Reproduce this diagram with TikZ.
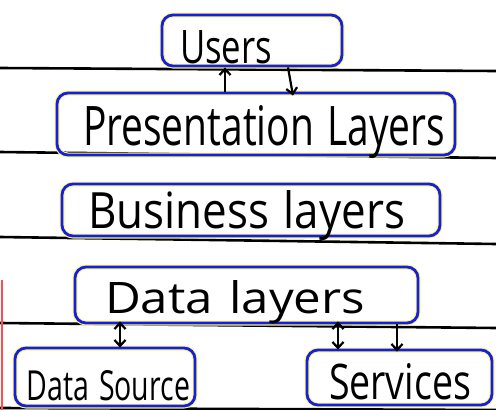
\documentclass[tikz,border=0pt]{standalone}
\usepackage{fontspec}
\setmainfont{Open Sans}
\usetikzlibrary{arrows.meta}
\definecolor{pen}{RGB}{20,30,235}
\newcommand{\hand}[3]{\resizebox{#1pt}{#2pt}{#3}}
\tikzset{
	>={Straight Barb[length=6pt,width=11pt]},
	rule/.style={line width=2.6pt, black},
	layer/.style={draw=pen, line width=2.8pt, rounded corners=11pt,
		preaction={draw=yellow!55, line width=5pt},
		inner sep=0pt, align=left, anchor=base},
	link/.style={line width=2.2pt}
}
\begin{document}
\begin{tikzpicture}[x=1pt,y=-1pt]
		\useasboundingbox (0,0) rectangle (496,410);
		\draw[rule] (0,68) -- (496,71);
		\draw[rule] (0,152) -- (496,158);
		\draw[rule] (0,237) -- (496,244);
		\draw[rule] (0,323) -- (496,328);
		\draw[rule] (0,408) -- (496,410);
		\draw[red!70, line width=2pt] (1.5,280) -- (1.5,410);
		\node (users) [layer, text width=180pt, text height=48pt, text depth=3pt] at (252,63) {\hspace*{18pt}\hand{92}{33}{Users}};
		\node (pres) [layer, text width=398pt, text height=52pt, text depth=10pt] at (256,145) {\hspace*{26pt}\hand{362}{40}{Presentation Layers}};
		\node (bus) [layer, text width=378pt, text height=44pt, text depth=8pt] at (251,228) {\hspace*{26pt}\hand{317}{38}{Business layers}};
		\node (data) [layer, text width=343pt, text height=46pt, text depth=10pt] at (246.5,313) {\hspace*{30pt}\hand{260}{33}{Data layers}};
		\node (source) [layer, text width=180pt, text height=52pt, text depth=6pt] at (105,400) {\hspace*{12pt}\hand{163}{30}{Data Source}};
		\node (serv) [layer, text width=185pt, text height=49pt, text depth=6pt] at (399.5,399) {\hspace*{22pt}\hand{142}{36}{Services}};
		\draw[link, ->] ([xshift=-31pt]pres.north) -- ([xshift=-27pt]users.south);
		\draw[link, ->] ([xshift=36pt]users.south) -- ([xshift=37pt,yshift=-4pt]pres.north);
		\draw[link, <->] ([xshift=-126.5pt,yshift=3pt]data.south) -- ([xshift=15pt,yshift=-1pt]source.north);
		\draw[link, <->] ([xshift=91.5pt,yshift=3pt]data.south) -- ([xshift=-61.5pt,yshift=-1pt]serv.north);
		\draw[link, ->] ([xshift=150.5pt]data.south) -- ([xshift=-2.5pt,yshift=-3pt]serv.north);
\end{tikzpicture}
\end{document}
